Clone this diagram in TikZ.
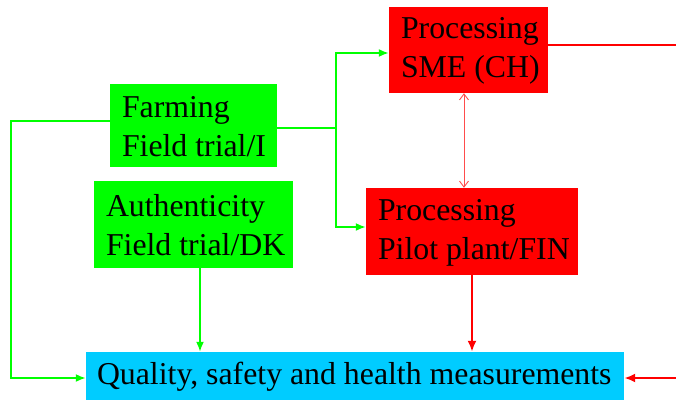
\documentclass[tikz,border=0pt]{standalone}
\usepackage{fontspec}
\setmainfont{Liberation Serif}
\usetikzlibrary{arrows.meta}
\definecolor{gr}{HTML}{00FF00}
\definecolor{rd}{HTML}{FF0000}
\definecolor{cy}{HTML}{00CCFF}
\begin{document}
\begin{tikzpicture}[x=1pt,y=-1pt,
  box/.style={inner sep=0pt,anchor=center},
  txt/.style={inner sep=0pt,align=left,anchor=west,
    font=\fontsize{31.8}{39}\selectfont},
  gline/.style={draw=gr,line width=1.8pt},
  rline/.style={draw=rd,line width=2.3pt},
  tipg/.style={-{Latex[length=10pt,width=8pt]}},
]
\useasboundingbox (0,0) rectangle (676,401);
\node[box,fill=gr,minimum width=167pt,minimum height=83pt] (farm) at (193.5,125.5) {};
\node[box,fill=gr,minimum width=199pt,minimum height=87pt] (auth) at (193.5,224.5) {};
\node[box,fill=rd,minimum width=159pt,minimum height=86pt] (sme) at (468.5,50) {};
\node[box,fill=rd,minimum width=212pt,minimum height=87pt] (pilot) at (472,231.5) {};
\node[box,fill=cy,minimum width=538pt,minimum height=48pt] (qual) at (355,376) {};
\node[txt] (farmt) at ([xshift=12pt,yshift=-1pt]farm.west) {Farming\\Field trial/I};
\node[txt] (autht) at ([xshift=12pt,yshift=-1pt]auth.west) {Authenticity\\Field trial/DK};
\node[txt] (smet) at ([xshift=12pt,yshift=-1pt]sme.west) {Processing\\SME (CH)};
\node[txt] (pilott) at ([xshift=12pt,yshift=-1pt]pilot.west) {Processing\\Pilot plant/FIN};
\node[txt] (qualt) at ([xshift=11pt,yshift=-1pt]qual.west) {Quality, safety and health measurements};
\coordinate (j) at (336,128);
\coordinate (rtop) at (676,45);
\coordinate (rbot) at (676,378);
% farming left loop
\draw[gline,tipg] ([yshift=4.5pt]farm.west) -- ++(-99,0) |- ([yshift=-2pt]qual.west);
% farming to processing
\draw[gline] (farm.east |- j) -- (j);
\draw[gline,tipg] (j) |- ([yshift=-3pt]sme.west);
\draw[gline,tipg] (j) |- ([yshift=4.5pt]pilot.west);
% authenticity down
\draw[gline,tipg] ([xshift=6.5pt]auth.south) coordinate (a1) -- (a1 |- qual.north);
% pilot down
\draw[rline,-{Latex[length=11pt,width=9pt]}] (pilot.south) coordinate (p1) -- (p1 |- qual.north);
% double arrow
\draw[draw=rd!70,line width=0.9pt,{Straight Barb[length=6pt,width=9pt]}-{Straight Barb[length=6pt,width=9pt]}] ([xshift=-4.5pt]sme.south) coordinate (s1) -- (s1 |- pilot.north);
% sme right line
\draw[rline] ([yshift=5pt]sme.east) -- (rtop);
% right arrow into quality
\draw[rline,-{Latex[length=11pt,width=9pt]}] (rbot) -- (qual.east |- rbot);
\end{tikzpicture}
\end{document}
